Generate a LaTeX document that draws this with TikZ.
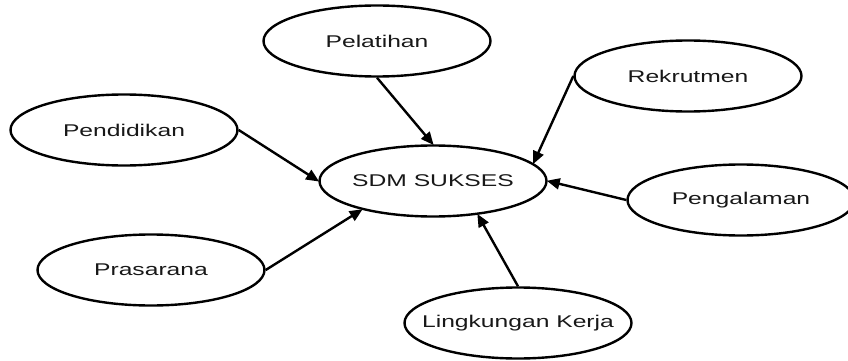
\documentclass[tikz,border=0pt]{standalone}
\usepackage{fontspec}
\newfontfamily\ovalfont{Liberation Sans}[FakeStretch=1.45]
\usepackage{tikz}
\usetikzlibrary{shapes.geometric}
\usetikzlibrary{arrows.meta}

\begin{document}
\begin{tikzpicture}[x=1pt,y=-1pt,
		oval/.style={draw, ellipse, line width=2.4pt, minimum width=227pt, minimum height=71pt,
			inner ysep=0pt, inner xsep=-40pt, font=\ovalfont\fontsize{17pt}{20pt}\selectfont},
		link/.style={line width=2.4pt, -{Triangle[length=13pt,width=11pt]}, shorten >=-1pt}]
				\definecolor{custcol_18_18_18}{RGB}{24, 24, 24}
				\useasboundingbox (0.0,0.0) rectangle (848.0,361.0);
				\node[oval, text=custcol_18_18_18] (sdm) at (433.0,181.0) {SDM SUKSES};
				\node[oval, text=custcol_18_18_18] (pelatihan) at (377.0,41.0) {Pelatihan};
				\node[oval, text=custcol_18_18_18] (pendidikan) at (124.0,130.0) {Pendidikan};
				\node[oval, text=custcol_18_18_18] (rekrutmen) at (688.0,76.0) {Rekrutmen};
				\node[oval, text=custcol_18_18_18] (pengalaman) at (741.0,200.0) {Pengalaman};
				\node[oval, text=custcol_18_18_18] (prasarana) at (151.0,270.0) {Prasarana};
				\node[oval, text=custcol_18_18_18] (lingkungan) at (518.0,323.0) {Lingkungan Kerja};
				% arrows into the centre
				\draw [link] (pelatihan.south) -- (sdm.north);
				\draw [link] (pendidikan.east) -- (sdm.west);
				\draw [link] (rekrutmen.west) -- (sdm.10);
				\draw [link] (pengalaman.west) -- (sdm.east);
				\draw [link] (prasarana.east) -- (sdm.202);
				\draw [link] (lingkungan.north) -- (sdm.323);
			\end{tikzpicture}
\end{document}
